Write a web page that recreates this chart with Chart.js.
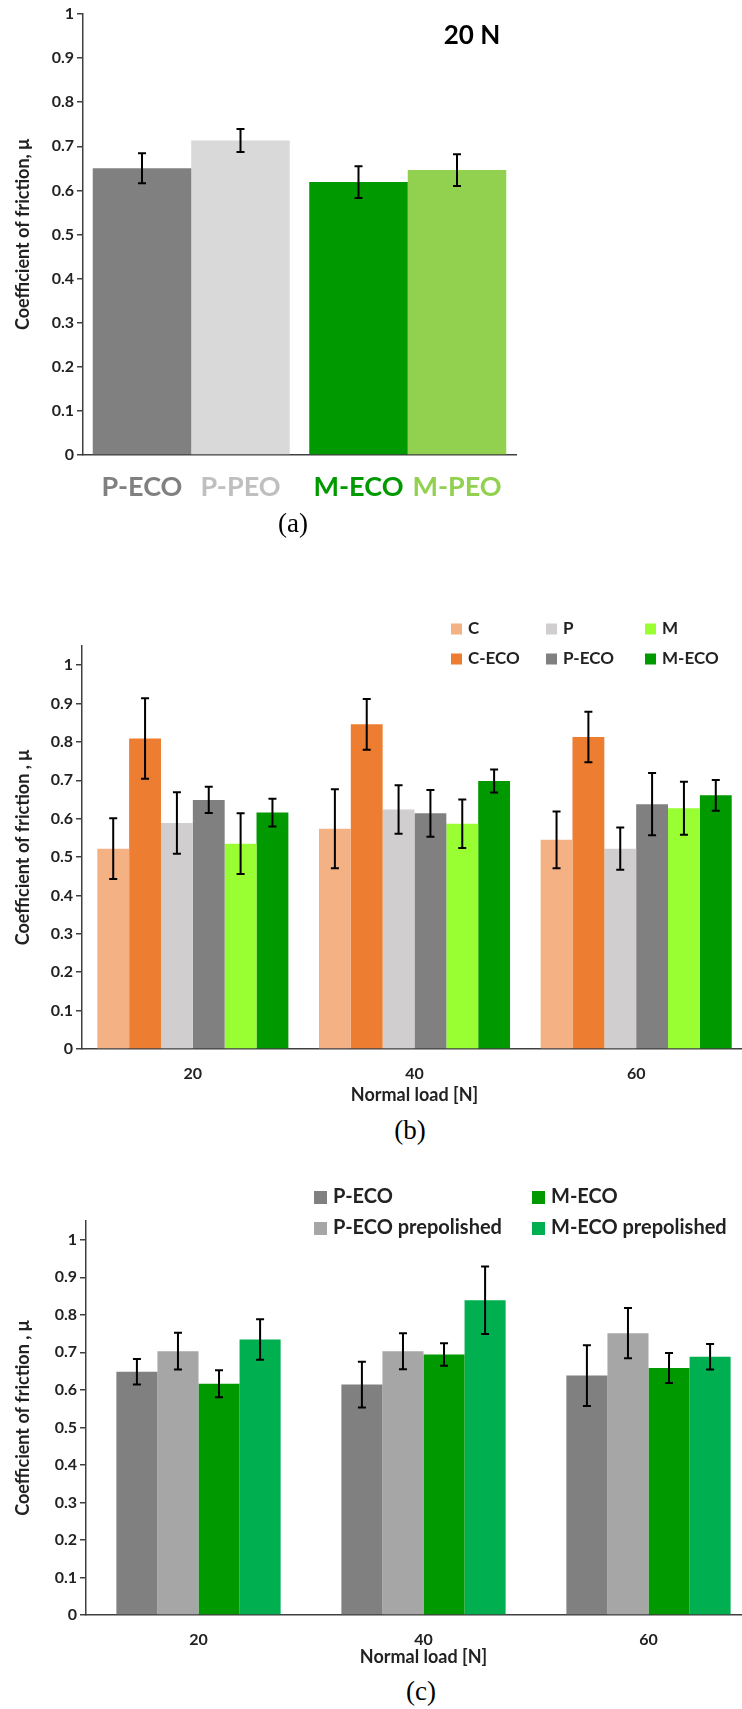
<!DOCTYPE html>
<html>
<head>
<meta charset="utf-8">
<script src="https://cdn.jsdelivr.net/npm/chart.js@4.4.1/dist/chart.umd.min.js"></script>
<style>
  body { margin: 0; background: #fff; }
  #page { position: relative; width: 742px; height: 1709px; overflow: hidden; }
  .box { position: absolute; left: 0; }
  .txt { position: absolute; transform: translate(-50%, -50%); white-space: nowrap; }
  .cap { font-family: "Liberation Serif", serif; font-size: 27px; color: #000; }
  .lg { position: absolute; transform: translateY(-50%); font-family: Lato, sans-serif; font-weight: bold; color: #222; white-space: nowrap; }
  .lg i { display: inline-block; margin-right: 6px; vertical-align: -1px; }
</style>
</head>
<body>
<div id="page">
  <div class="box" style="top:0;width:742px;height:545px"><canvas id="chartA"></canvas></div>
  <div class="box" style="top:580px;width:750px;height:530px"><canvas id="chartB"></canvas></div>
  <div class="box" style="top:1160px;width:765px;height:515px"><canvas id="chartC"></canvas></div>

  <div class="txt" style="left:472px;top:34px;font-family:Lato,sans-serif;font-weight:bold;font-size:26px;color:#000">20 N</div>
  <div class="txt cap" style="left:293px;top:523px">(a)</div>
  <div class="txt cap" style="left:410px;top:1130px">(b)</div>
  <div class="txt cap" style="left:421px;top:1691px">(c)</div>

  <div id="legendB"></div>
  <div id="legendC"></div>
</div>

<script>
// ---- (a) 20 N, two groups of two bars
const groupsA = ["P", "M"];
const ecoA = [0.650, 0.619];
const ecoErrA = [0.034, 0.036];
const peoA = [0.713, 0.646];
const peoErrA = [0.026, 0.036];
const ecoNamesA = ["P-ECO", "M-ECO"];
const peoNamesA = ["P-PEO", "M-PEO"];

// ---- (b) normal load series
const loads = ["20", "40", "60"];
const cB = [0.522, 0.574, 0.545];
const cErrB = [0.079, 0.103, 0.074];
const cEcoB = [0.809, 0.846, 0.813];
const cEcoErrB = [0.105, 0.066, 0.066];
const pB = [0.589, 0.624, 0.522];
const pErrB = [0.080, 0.063, 0.055];
const pEcoB = [0.649, 0.614, 0.638];
const pEcoErrB = [0.034, 0.061, 0.081];
const mB = [0.535, 0.587, 0.627];
const mErrB = [0.079, 0.063, 0.069];
const mEcoB = [0.616, 0.698, 0.661];
const mEcoErrB = [0.036, 0.030, 0.040];

// ---- (c) prepolished comparison
const pEcoC = [0.648, 0.614, 0.638];
const pEcoErrC = [0.034, 0.061, 0.081];
const pEcoPreC = [0.703, 0.703, 0.751];
const pEcoPreErrC = [0.049, 0.048, 0.067];
const mEcoC = [0.616, 0.694, 0.658];
const mEcoErrC = [0.036, 0.030, 0.040];
const mEcoPreC = [0.734, 0.839, 0.688];
const mEcoPreErrC = [0.054, 0.090, 0.034];

const AXIS = "#404040";
const TEXT = "#222";
const FONT = "Lato, sans-serif";

// error bars drawn from dataset.errors
const errorBars = {
  id: "errorBars",
  afterDatasetsDraw(chart) {
    const ctx = chart.ctx;
    const y = chart.scales.y;
    ctx.save();
    ctx.strokeStyle = "#000";
    ctx.lineWidth = 2;
    chart.data.datasets.forEach((ds, i) => {
      if (!ds.errors) return;
      chart.getDatasetMeta(i).data.forEach((bar, j) => {
        const v = ds.data[j], e = ds.errors[j];
        const y1 = y.getPixelForValue(v + e);
        const y2 = y.getPixelForValue(v - e);
        ctx.beginPath();
        ctx.moveTo(bar.x, y1); ctx.lineTo(bar.x, y2);
        ctx.moveTo(bar.x - 4, y1); ctx.lineTo(bar.x + 4, y1);
        ctx.moveTo(bar.x - 4, y2); ctx.lineTo(bar.x + 4, y2);
        ctx.stroke();
      });
    });
    ctx.restore();
  }
};

// names under each bar (panel a)
const barNames = {
  id: "barNames",
  afterDraw(chart) {
    const ctx = chart.ctx;
    ctx.save();
    ctx.font = "bold 27px " + FONT;
    ctx.textAlign = "center";
    ctx.textBaseline = "middle";
    chart.data.datasets.forEach((ds, i) => {
      chart.getDatasetMeta(i).data.forEach((bar, j) => {
        ctx.fillStyle = ds.nameColors[j];
        ctx.fillText(ds.names[j], bar.x, 487);
      });
    });
    ctx.restore();
  }
};

function yAxis(max, width, title) {
  return {
    min: 0,
    max: max,
    afterFit: s => { s.width = width; },
    ticks: {
      stepSize: 0.1,
      includeBounds: false,
      padding: 3,
      color: TEXT,
      font: { family: FONT, size: 16, weight: "bold" },
      callback: v => String(+v.toFixed(1))
    },
    grid: { drawOnChartArea: false, drawTicks: true, tickLength: 6, color: AXIS, lineWidth: 1.5 },
    border: { display: true, color: AXIS, width: 1.5 },
    title: {
      display: true,
      text: title,
      color: TEXT,
      font: { family: FONT, size: 18, weight: "bold" },
      padding: { top: 0, bottom: 0 }
    }
  };
}

function xAxis(height, showTicks) {
  return {
    afterFit: s => { s.height = height; },
    grid: { display: false, drawTicks: false },
    border: { display: true, color: AXIS, width: 1.5 },
    ticks: {
      display: showTicks,
      padding: 15,
      color: TEXT,
      font: { family: FONT, size: 16, weight: "bold" }
    },
    title: {
      display: showTicks,
      text: "Normal load [N]",
      color: TEXT,
      font: { family: FONT, size: 18, weight: "bold" },
      padding: { top: 4, bottom: 4 }
    }
  };
}

const common = {
  responsive: true,
  maintainAspectRatio: false,
  animation: false,
  plugins: { legend: { display: false }, tooltip: { enabled: false } }
};

// ---- chart (a)
new Chart(document.getElementById("chartA"), {
  type: "bar",
  data: {
    labels: groupsA,
    datasets: [
      { label: "ECO", data: ecoA, errors: ecoErrA, names: ecoNamesA,
        backgroundColor: ["#808080", "#009900"], nameColors: ["#808080", "#009900"],
        categoryPercentage: 0.91, barPercentage: 1 },
      { label: "PEO", data: peoA, errors: peoErrA, names: peoNamesA,
        backgroundColor: ["#d9d9d9", "#92d050"], nameColors: ["#bfbfbf", "#92d050"],
        categoryPercentage: 0.91, barPercentage: 1 }
    ]
  },
  options: {
    ...common,
    layout: { padding: { left: 12, top: 14, right: 226, bottom: 0 } },
    scales: {
      x: xAxis(90, false),
      y: yAxis(1, 71, "Coefficient of friction, μ")
    }
  },
  plugins: [errorBars, barNames]
});

// ---- chart (b)
const seriesB = [
  { label: "C", data: cB, errors: cErrB, color: "#f4b183" },
  { label: "C-ECO", data: cEcoB, errors: cEcoErrB, color: "#ed7d31" },
  { label: "P", data: pB, errors: pErrB, color: "#d0cece" },
  { label: "P-ECO", data: pEcoB, errors: pEcoErrB, color: "#808080" },
  { label: "M", data: mB, errors: mErrB, color: "#99ff33" },
  { label: "M-ECO", data: mEcoB, errors: mEcoErrB, color: "#009900" }
];

new Chart(document.getElementById("chartB"), {
  type: "bar",
  data: {
    labels: loads,
    datasets: seriesB.map(s => ({
      label: s.label, data: s.data, errors: s.errors,
      backgroundColor: s.color, categoryPercentage: 0.862, barPercentage: 1
    }))
  },
  options: {
    ...common,
    layout: { padding: { left: 12, top: 66, right: 3, bottom: 0 } },
    scales: {
      x: xAxis(61, true),
      y: yAxis(1.05, 70, "Coefficient of friction , μ")
    }
  },
  plugins: [errorBars]
});

// ---- chart (c)
const seriesC = [
  { label: "P-ECO", data: pEcoC, errors: pEcoErrC, color: "#808080" },
  { label: "P-ECO prepolished", data: pEcoPreC, errors: pEcoPreErrC, color: "#a6a6a6" },
  { label: "M-ECO", data: mEcoC, errors: mEcoErrC, color: "#009900" },
  { label: "M-ECO prepolished", data: mEcoPreC, errors: mEcoPreErrC, color: "#00b050" }
];

new Chart(document.getElementById("chartC"), {
  type: "bar",
  data: {
    labels: loads,
    datasets: seriesC.map(s => ({
      label: s.label, data: s.data, errors: s.errors,
      backgroundColor: s.color, categoryPercentage: 0.73, barPercentage: 1
    }))
  },
  options: {
    ...common,
    layout: { padding: { left: 12, top: 61, right: 4, bottom: 3 } },
    scales: {
      x: xAxis(57, true),
      y: yAxis(1.05, 74, "Coefficient of friction , μ")
    }
  },
  plugins: [errorBars]
});

// ---- legends, laid out in columns like the original
function legend(el, series, cols, rows, size, mark) {
  series.forEach((s, k) => {
    const d = document.createElement("div");
    d.className = "lg";
    d.style.fontSize = size + "px";
    d.style.left = cols[Math.floor(k / 2)] + "px";
    d.style.top = rows[k % 2] + "px";
    d.innerHTML = '<i style="width:' + mark + 'px;height:' + mark + 'px;background:' + s.color + '"></i>' + s.label;
    el.appendChild(d);
  });
}
legend(document.getElementById("legendB"), seriesB, [451, 546, 645], [627, 657], 17, 11);
legend(document.getElementById("legendC"), seriesC, [314, 532], [1195, 1226], 20, 13);
</script>
</body>
</html>
